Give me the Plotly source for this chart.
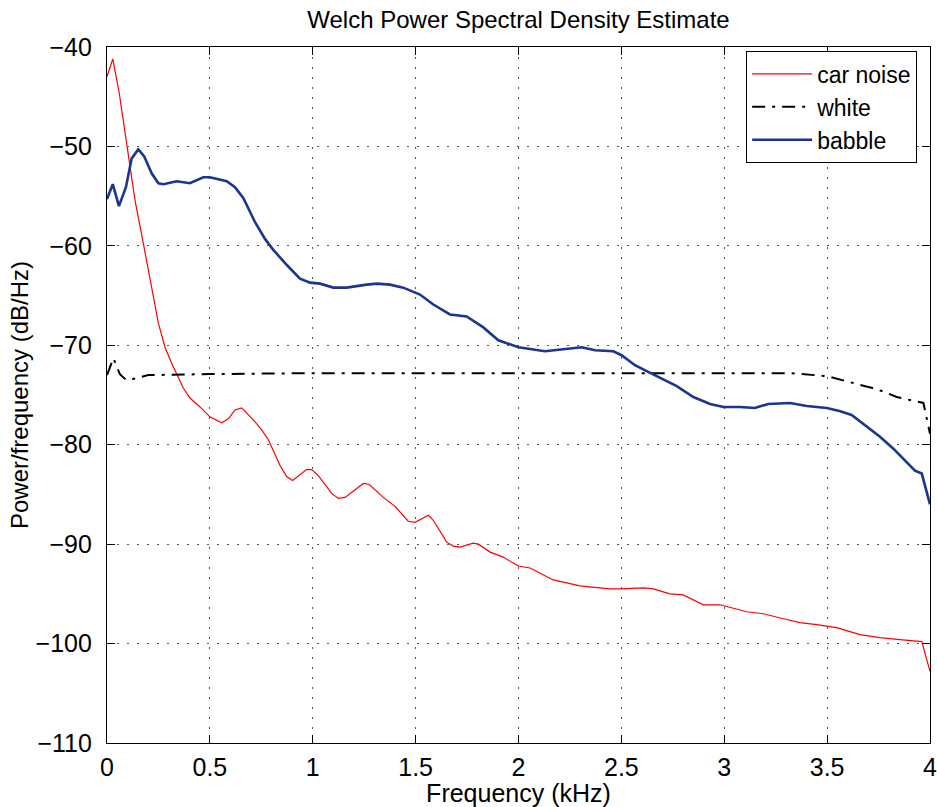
import plotly.graph_objects as go

# ---- data (frequency in kHz, PSD in dB/Hz) ----
car_freq = [0, 0.028, 0.06, 0.096, 0.136, 0.177, 0.217, 0.25, 0.282, 0.314, 0.355, 0.371, 0.403, 0.452,
            0.5, 0.557, 0.59, 0.622, 0.655, 0.711, 0.752, 0.784, 0.841, 0.873, 0.902, 0.97, 0.995, 1.027,
            1.092, 1.124, 1.157, 1.213, 1.246, 1.275, 1.343, 1.4, 1.464, 1.497, 1.562, 1.586, 1.651, 1.683,
            1.716, 1.78, 1.805, 1.862, 1.926, 1.999, 2.056, 2.169, 2.299, 2.445, 2.493, 2.607, 2.655, 2.736,
            2.801, 2.898, 2.979, 3.109, 3.19, 3.287, 3.368, 3.449, 3.546, 3.66, 3.757, 3.854, 3.96, 4.0]
car_psd = [-43.0, -41.2, -44.7, -50.0, -55.4, -59.8, -64.1, -67.8, -70.2, -71.8, -73.6, -74.3, -75.3, -76.2,
           -77.2, -77.8, -77.4, -76.5, -76.3, -77.5, -78.5, -79.5, -82.1, -83.2, -83.6, -82.5, -82.5, -83.1,
           -84.9, -85.4, -85.3, -84.4, -83.9, -84.0, -85.3, -86.2, -87.7, -87.8, -87.1, -87.6, -89.8, -90.2,
           -90.3, -89.9, -90.0, -90.8, -91.3, -92.2, -92.4, -93.6, -94.2, -94.5, -94.5, -94.4, -94.5, -95.0,
           -95.1, -96.1, -96.1, -96.8, -97.0, -97.5, -97.9, -98.1, -98.4, -99.1, -99.4, -99.6, -99.8, -102.8]

white_freq = [0, 0.031, 0.0625, 0.094, 0.125, 0.2, 0.5, 1.0, 1.5, 2.0, 2.5, 3.0, 3.32, 3.498, 3.635,
              3.72, 3.78, 3.838, 3.879, 3.936, 3.968, 4.0]
white_psd = [-73.0, -71.3, -72.9, -73.5, -73.4, -73.0, -72.9, -72.8, -72.8, -72.8, -72.8, -72.8, -72.8,
             -73.1, -73.8, -74.3, -74.7, -75.2, -75.4, -75.7, -75.8, -78.9]

babble_freq = [0, 0.028, 0.058, 0.092, 0.12, 0.152, 0.181, 0.217, 0.25, 0.274, 0.339, 0.403, 0.468, 0.5,
               0.582, 0.622, 0.663, 0.719, 0.768, 0.808, 0.873, 0.938, 0.987, 1.035, 1.1, 1.165, 1.262,
               1.311, 1.375, 1.44, 1.521, 1.586, 1.667, 1.748, 1.829, 1.902, 2.0, 2.056, 2.129, 2.218,
               2.307, 2.372, 2.461, 2.501, 2.566, 2.623, 2.688, 2.769, 2.85, 2.931, 2.996, 3.076, 3.149,
               3.214, 3.32, 3.401, 3.498, 3.56, 3.619, 3.692, 3.757, 3.822, 3.887, 3.927, 3.96, 4.0]
babble_psd = [-55.3, -53.8, -56.0, -54.1, -51.2, -50.3, -51.0, -52.7, -53.7, -53.8, -53.5, -53.7, -53.1,
              -53.1, -53.5, -54.1, -55.2, -57.6, -59.3, -60.4, -61.9, -63.3, -63.7, -63.8, -64.2, -64.2,
              -63.9, -63.8, -63.9, -64.2, -64.9, -65.9, -66.9, -67.1, -68.2, -69.5, -70.2, -70.4, -70.6,
              -70.4, -70.2, -70.5, -70.6, -71.0, -72.0, -72.6, -73.3, -74.1, -75.2, -75.9, -76.2, -76.2,
              -76.3, -75.9, -75.8, -76.1, -76.3, -76.6, -77.0, -78.2, -79.2, -80.4, -81.7, -82.6, -82.9,
              -86.0]

x_ticks = [0, 0.5, 1, 1.5, 2, 2.5, 3, 3.5, 4]
y_ticks = [-110, -100, -90, -80, -70, -60, -50, -40]

FONT = "Liberation Sans, Arial, Helvetica, sans-serif"

fig = go.Figure()
fig.add_trace(go.Scatter(x=car_freq, y=car_psd, mode="lines", name="car noise",
                         line=dict(color="#ff0000", width=1.2)))
fig.add_trace(go.Scatter(x=white_freq, y=white_psd, mode="lines", name="white",
                         line=dict(color="#000000", width=2, dash="13px,7px,3px,7px")))
fig.add_trace(go.Scatter(x=babble_freq, y=babble_psd, mode="lines", name="babble",
                         line=dict(color="#1b3590", width=2.6)))

axis_common = dict(
    showline=True, linecolor="black", linewidth=1.3, mirror="ticks",
    ticks="inside", ticklen=8, tickwidth=1, tickcolor="black",
    showgrid=True, gridcolor="#555555", gridwidth=1, griddash="2px,8px",
    zeroline=False, automargin=False, ticklabeloverflow="allow",
    tickfont=dict(size=25, color="black", family=FONT),
)

fig.update_layout(
    width=937, height=807,
    margin=dict(l=107, r=7, t=47, b=64, autoexpand=False),
    paper_bgcolor="white", plot_bgcolor="white",
    font=dict(family=FONT, color="black", size=24),
    title=dict(text="Welch Power Spectral Density Estimate", x=0.5, xref="paper",
               y=1 - 20 / 807, yref="container", yanchor="middle",
               font=dict(size=24, color="black", family=FONT)),
    xaxis=dict(range=[0, 4], tickvals=x_ticks, ticktext=[f"{v:g}" for v in x_ticks],
               title=dict(text="Frequency (kHz)", standoff=2, font=dict(size=25)),
               ticklabelstandoff=2, **axis_common),
    yaxis=dict(range=[-110, -40], tickvals=y_ticks,
               title=dict(text="Power/frequency (dB/Hz)", standoff=0, font=dict(size=24)),
               ticklabelstandoff=9, **axis_common),
    legend=dict(x=0.984, y=0.994, xanchor="right", yanchor="top",
                bgcolor="white", bordercolor="black", borderwidth=1.3,
                font=dict(size=23, color="black", family=FONT),
                tracegroupgap=0, itemwidth=60),
    showlegend=True,
)

fig.write_html("out.html")
